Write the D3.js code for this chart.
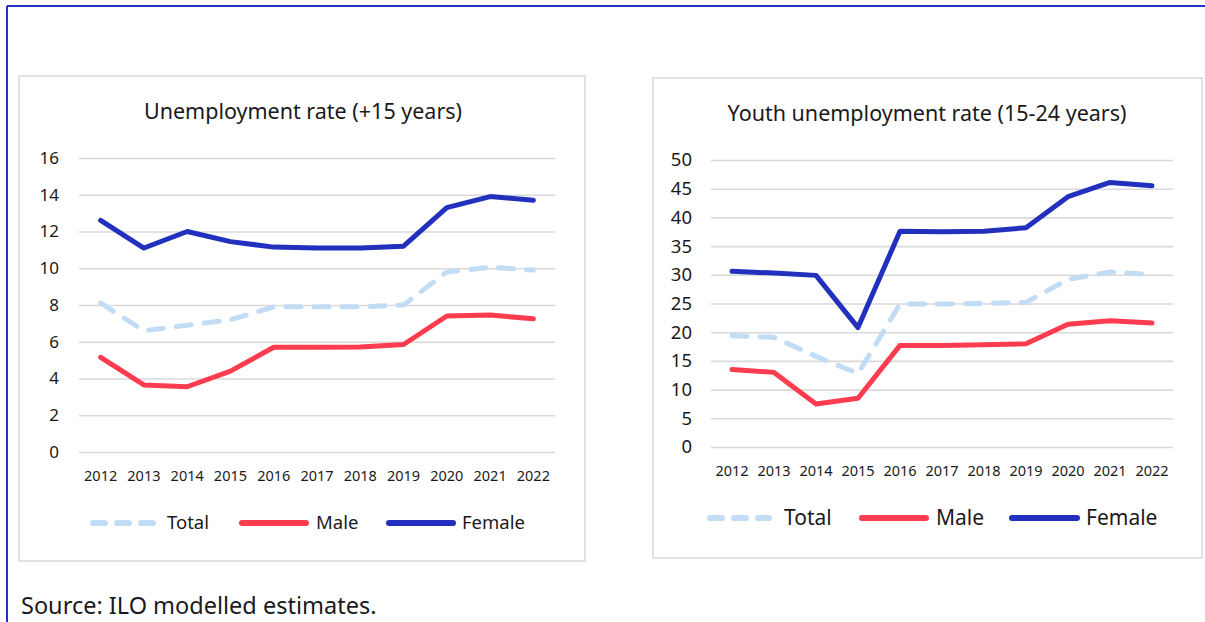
<!DOCTYPE html>
<html>
<head>
<meta charset="utf-8">
<script src="https://cdn.jsdelivr.net/npm/d3@7/dist/d3.min.js"></script>
<style>
  html, body { margin: 0; padding: 0; background: #fff; }
  svg { display: block; font-family: "Noto Sans", "Open Sans", sans-serif; }
</style>
</head>
<body>
<svg id="chart" width="1205" height="622"></svg>
<script>
// ---------------- data ----------------
const years = ["2012","2013","2014","2015","2016","2017","2018","2019","2020","2021","2022"];
const seriesNames = ["Total", "Male", "Female"];

// Unemployment rate (+15 years)
const adultTotal  = [8.1, 6.6, 6.9, 7.2, 7.9, 7.9, 7.9, 8.0, 9.8, 10.05, 9.9];
const adultMale   = [5.15, 3.65, 3.55, 4.4, 5.7, 5.7, 5.72, 5.85, 7.4, 7.45, 7.25];
const adultFemale = [12.6, 11.1, 12.0, 11.45, 11.15, 11.1, 11.1, 11.2, 13.3, 13.9, 13.7];
const adultTicks  = [0, 2, 4, 6, 8, 10, 12, 14, 16];

// Youth unemployment rate (15-24 years)
const youthTotal  = [19.4, 19.1, 15.8, 12.8, 24.9, 24.9, 25.0, 25.2, 29.2, 30.5, 30.0];
const youthMale   = [13.5, 13.0, 7.5, 8.5, 17.7, 17.7, 17.8, 18.0, 21.4, 22.0, 21.6];
const youthFemale = [30.6, 30.3, 29.9, 20.8, 37.6, 37.5, 37.6, 38.2, 43.6, 46.1, 45.5];
const youthTicks  = [0, 5, 10, 15, 20, 25, 30, 35, 40, 45, 50];

// ---------------- styles ----------------
const colors = { Total: "#c3dcf6", Male: "#fe3c4f", Female: "#2131bd" };
const gridColor = "#d9d9d9";

const svg = d3.select("#chart");

// outer frame (top and left edges visible)
svg.append("line").attr("x1", 7).attr("x2", 1205).attr("y1", 6).attr("y2", 6)
  .attr("stroke", "#2233c8").attr("stroke-width", 2);
svg.append("line").attr("x1", 7).attr("x2", 7).attr("y1", 6).attr("y2", 622)
  .attr("stroke", "#2233c8").attr("stroke-width", 2);

function drawPanel(cfg) {
  const g = svg.append("g");
  // panel box
  g.append("rect")
    .attr("x", cfg.box[0]).attr("y", cfg.box[1])
    .attr("width", cfg.box[2] - cfg.box[0]).attr("height", cfg.box[3] - cfg.box[1])
    .attr("fill", "#fff").attr("stroke", gridColor).attr("stroke-width", 1.5);

  // title
  g.append("text")
    .attr("x", (cfg.plot[0] + cfg.plot[1]) / 2 + cfg.titleDx).attr("y", cfg.titleY)
    .attr("text-anchor", "middle")
    .attr("font-size", cfg.titleSize).attr("fill", "#1a1a1a")
    .text(cfg.title);

  const x = d3.scaleBand().domain(years).range([cfg.plot[0], cfg.plot[1]]).padding(0);
  const y = d3.scaleLinear().domain([0, cfg.ticks[cfg.ticks.length - 1]]).range([cfg.plot[3], cfg.plot[2]]);

  // gridlines + y labels
  const yAxis = d3.axisLeft(y).tickValues(cfg.ticks)
    .tickSize(-(cfg.plot[1] - cfg.plot[0])).tickPadding(cfg.yPad)
    .tickFormat(d3.format("d"));
  const ya = g.append("g").attr("transform", `translate(${cfg.plot[0]},0)`).call(yAxis);
  ya.select(".domain").remove();
  ya.selectAll(".tick line").attr("stroke", gridColor).attr("stroke-width", 1.6);
  ya.selectAll(".tick text").attr("font-size", cfg.yFont).attr("fill", "#1a1a1a")
    .attr("font-family", "Noto Sans, sans-serif");

  // x labels
  const xAxis = d3.axisBottom(x).tickSize(0).tickPadding(cfg.xPad);
  const xa = g.append("g").attr("transform", `translate(0,${cfg.plot[3]})`).call(xAxis);
  xa.select(".domain").remove();
  xa.selectAll(".tick text").attr("font-size", cfg.xFont).attr("fill", "#1a1a1a")
    .attr("font-family", "Noto Sans, sans-serif");

  const line = d3.line()
    .x((d, i) => x(years[i]) + x.bandwidth() / 2)
    .y(d => y(d));

  const data = { Total: cfg.total, Male: cfg.male, Female: cfg.female };
  seriesNames.forEach(name => {
    g.append("path")
      .datum(data[name])
      .attr("d", line)
      .attr("fill", "none")
      .attr("stroke", colors[name])
      .attr("stroke-width", 5)
      .attr("stroke-linejoin", "round")
      .attr("stroke-linecap", "round")
      .attr("stroke-dasharray", name === "Total" ? "15,13" : null);
  });

  // legend
  seriesNames.forEach((name, i) => {
    const L = cfg.legend[i];
    g.append("line")
      .attr("x1", L[0]).attr("x2", L[1]).attr("y1", cfg.legendY).attr("y2", cfg.legendY)
      .attr("stroke", colors[name]).attr("stroke-width", 6)
      .attr("stroke-linecap", "round")
      .attr("stroke-dasharray", name === "Total" ? "12,12" : null);
    g.append("text")
      .attr("x", L[2]).attr("y", cfg.legendY).attr("dy", "0.35em")
      .attr("font-size", cfg.legendFont).attr("fill", "#1a1a1a")
      .text(name);
  });
}

drawPanel({
  box: [19, 76, 585, 561],
  plot: [79, 555, 158, 452],
  title: "Unemployment rate (+15 years)", titleY: 119, titleDx: -14, titleSize: 21.5,
  ticks: adultTicks, yFont: 17, yPad: 20, xFont: 14.5, xPad: 19,
  total: adultTotal, male: adultMale, female: adultFemale,
  legendY: 523, legendFont: 18.5,
  legend: [[93, 153, 167], [242, 306, 316], [389, 453, 462]]
});

drawPanel({
  box: [653, 78, 1202, 558],
  plot: [711, 1173, 160, 447],
  title: "Youth unemployment rate (15-24 years)", titleY: 121, titleDx: -15, titleSize: 21.5,
  ticks: youthTicks, yFont: 18.5, yPad: 19, xFont: 14.5, xPad: 19,
  total: youthTotal, male: youthMale, female: youthFemale,
  legendY: 518, legendFont: 21,
  legend: [[710, 769, 784], [862, 926, 936], [1012, 1077, 1086]]
});

// source note
svg.append("text").attr("x", 21).attr("y", 614)
  .attr("font-size", 23.5).attr("fill", "#1a1a1a")
  .text("Source: ILO modelled estimates.");
</script>
</body>
</html>
